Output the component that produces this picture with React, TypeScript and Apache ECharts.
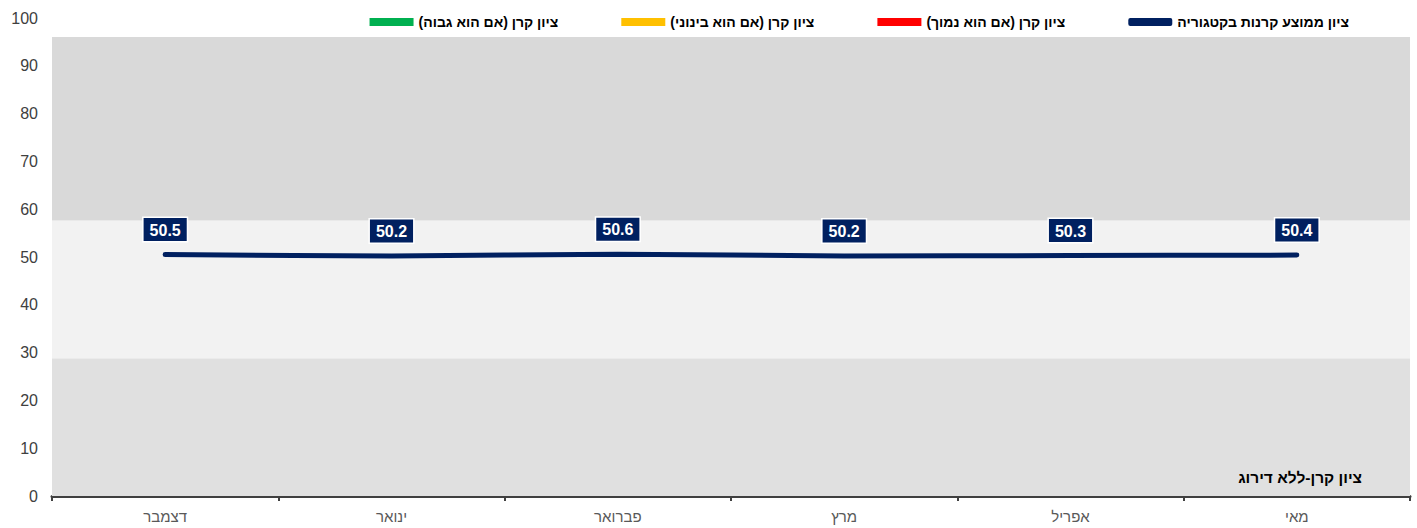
import React, { useEffect, useRef } from "react";
import * as echarts from "echarts";

const categories = ["דצמבר", "ינואר", "פברואר", "מרץ", "אפריל", "מאי"];
const avgScores = [50.5, 50.2, 50.6, 50.2, 50.3, 50.4];
const bandEdges = [0, 30, 60, 100];
const bandColors = ["#e0e0e0", "#f2f2f2", "#d9d9d9"];
const RLM = "\u200F";
const seriesNames = [
  "ציון ממוצע קרנות בקטגוריה",
  "ציון קרן (אם הוא נמוך)" + RLM,
  "ציון קרן (אם הוא בינוני)" + RLM,
  "ציון קרן (אם הוא גבוה)" + RLM,
];
const seriesColors = ["#002060", "#ff0000", "#ffc000", "#00b050"];
const noteText = "ציון קרן-ללא דירוג";

export default function App() {
  const ref = useRef<HTMLDivElement>(null);
  useEffect(() => {
    if (!ref.current) return;
    const chart = echarts.init(ref.current, null, { renderer: "svg" });
    const font = "'Liberation Sans', Arial, sans-serif";
    const bands = [];
    for (let i = 0; i < bandColors.length; i++) {
      bands.push([
        { yAxis: bandEdges[i], itemStyle: { color: bandColors[i] } },
        { yAxis: bandEdges[i + 1] },
      ]);
    }
    chart.setOption({
      animation: false,
      textStyle: { fontFamily: font },
      grid: { left: 52, right: 7, top: 18, bottom: 32 },
      legend: {
        top: 10,
        right: 63,
        itemGap: 63,
        itemWidth: 44,
        itemHeight: 8,
        textStyle: { fontFamily: font, fontWeight: "bold", fontSize: 14, color: "#000" },
        data: [
          { name: seriesNames[3], icon: "rect" },
          { name: seriesNames[2], icon: "rect" },
          { name: seriesNames[1], icon: "rect" },
          { name: seriesNames[0], icon: "roundRect" },
        ],
      },
      xAxis: {
        type: "category",
        data: categories,
        boundaryGap: true,
        axisLine: { show: true, lineStyle: { color: "#404040", width: 3 } },
        axisTick: { show: true, length: 5, lineStyle: { color: "#404040", width: 2 } },
        axisLabel: { color: "#595959", fontSize: 15, margin: 13, fontFamily: font },
        splitLine: { show: false },
      },
      yAxis: [
        {
          type: "value",
          min: 0,
          max: 100,
          interval: 10,
          axisLine: { show: false },
          axisTick: { show: false },
          splitLine: { show: false },
          axisLabel: { color: "#404040", fontSize: 16, margin: 14, fontFamily: font },
        },
        {
          type: "value",
          min: 0,
          max: 104.14,
          show: false,
          splitLine: { show: false },
        },
      ],
      graphic: [
        {
          type: "text",
          right: 55,
          top: 469,
          z: 10,
          style: {
            text: noteText,
            fontFamily: font,
            fontSize: 15.5,
            fontWeight: "bold",
            fill: "#000",
          },
        },
      ],
      series: [
        {
          name: "bands",
          type: "line",
          yAxisIndex: 1,
          data: [],
          silent: true,
          z: 0,
          markArea: { silent: true, data: bands },
        },
        {
          name: seriesNames[0],
          type: "line",
          data: avgScores,
          color: seriesColors[0],
          symbol: "circle",
          symbolSize: 1,
          showSymbol: true,
          smooth: 0.3,
          z: 5,
          lineStyle: { color: seriesColors[0], width: 5, cap: "round" },
          label: {
            show: true,
            position: "top",
            distance: 13,
            backgroundColor: seriesColors[0],
            borderColor: "#ffffff",
            borderWidth: 1.5,
            padding: [4, 6, 3, 6],
            color: "#fff",
            fontWeight: "bold",
            fontSize: 16,
            fontFamily: font,
            formatter: (p: any) => Number(p.value).toFixed(1),
          },
        },
        { name: seriesNames[1], type: "line", data: [], color: seriesColors[1] },
        { name: seriesNames[2], type: "line", data: [], color: seriesColors[2] },
        { name: seriesNames[3], type: "line", data: [], color: seriesColors[3] },
      ],
    });
    return () => chart.dispose();
  }, []);
  return <div ref={ref} style={{ width: 1417, height: 528, position: "absolute", left: 0, top: 0 }} />;
}
